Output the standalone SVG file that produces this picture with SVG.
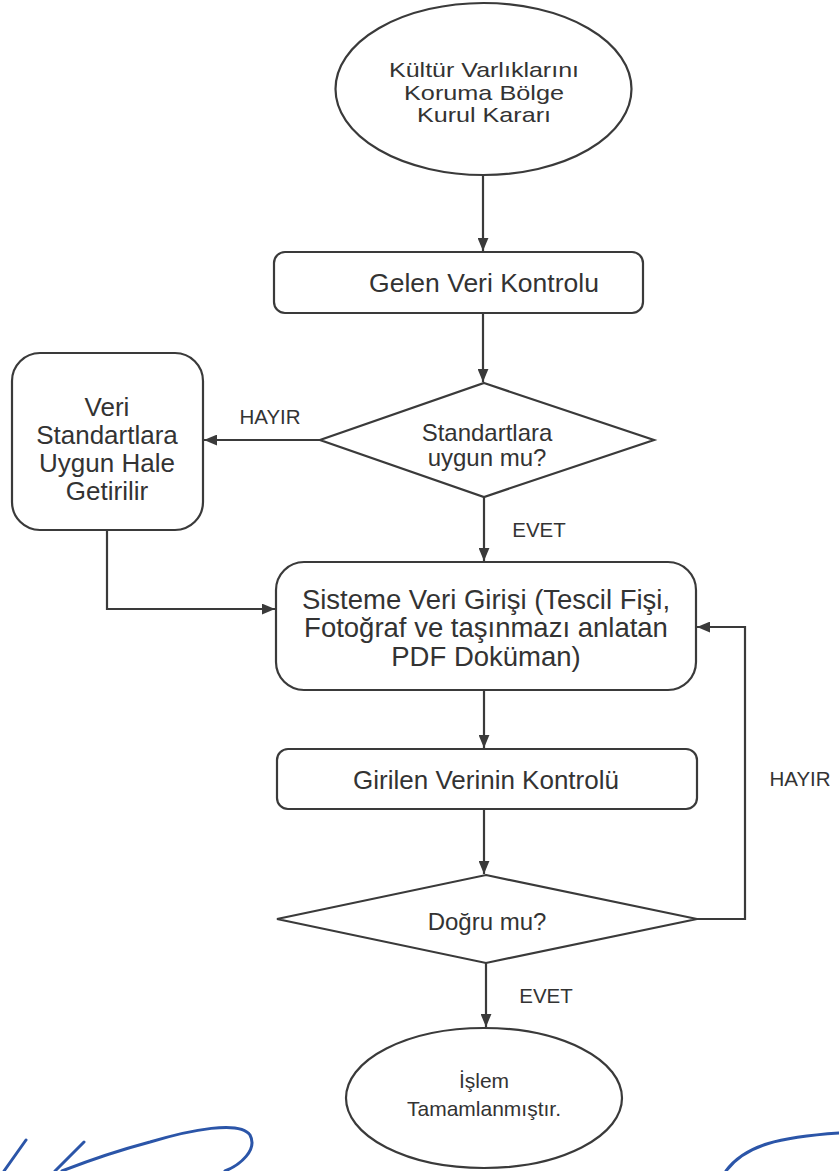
<svg xmlns="http://www.w3.org/2000/svg" width="839" height="1171" viewBox="0 0 839 1171">
<defs>
<marker id="ah" viewBox="0 0 12 10" refX="12" refY="5" markerWidth="13" markerHeight="11" markerUnits="userSpaceOnUse" orient="auto">
<path d="M0,0 L12,5 L0,10 z" fill="#3a3a3a"/>
</marker>
</defs>
<style>
.shape{fill:#fff;stroke:#3a3a3a;stroke-width:2.2}
.t{font-family:"Liberation Sans",Arial,sans-serif;fill:#333;text-anchor:middle}
.lbl{font-family:"Liberation Sans",Arial,sans-serif;fill:#333;text-anchor:middle;font-size:20.5px}
.conn{fill:none;stroke:#3a3a3a;stroke-width:2.2;marker-end:url(#ah)}
.sig{fill:none;stroke:#2b55a8;stroke-width:3;stroke-linecap:round}
</style>
<rect width="839" height="1171" fill="#fff"/>

<g id="connectors">
<path class="conn" d="M483,175 L483,251"/>
<path class="conn" d="M483,313 L483,382"/>
<path class="conn" d="M320,440 L204,440"/>
<path class="conn" d="M484,497 L484,561"/>
<path class="conn" d="M107,530 L107,609 L275,609"/>
<path class="conn" d="M484,690 L484,748"/>
<path class="conn" d="M484,809 L484,874"/>
<path class="conn" d="M697,919 L745,919 L745,627 L697,627"/>
<path class="conn" d="M486,963 L486,1027"/>
<text class="lbl" x="270" y="424">HAYIR</text>
<text class="lbl" x="539" y="537">EVET</text>
<text class="lbl" x="800" y="786">HAYIR</text>
<text class="lbl" x="546" y="1003">EVET</text>
</g>

<g id="start">
<ellipse class="shape" cx="483.5" cy="89" rx="148" ry="86"/>
<text class="t" font-size="21" x="484" y="77" textLength="190" lengthAdjust="spacingAndGlyphs">Kültür Varlıklarını</text>
<text class="t" font-size="21" x="484" y="99.5" textLength="160" lengthAdjust="spacingAndGlyphs">Koruma Bölge</text>
<text class="t" font-size="21" x="484" y="122" textLength="134" lengthAdjust="spacingAndGlyphs">Kurul Kararı</text>
</g>

<g id="gelen">
<rect class="shape" x="274" y="252" width="369" height="61" rx="11"/>
<text class="t" font-size="26.5" x="484" y="292">Gelen Veri Kontrolu</text>
</g>

<g id="standart">
<polygon class="shape" points="484,383 654,440 484,497 320,440"/>
<text class="t" font-size="24" x="487" y="441">Standartlara</text>
<text class="t" font-size="24" x="487" y="466">uygun mu?</text>
</g>

<g id="uygunhale">
<rect class="shape" x="12" y="353" width="191" height="177" rx="28"/>
<text class="t" font-size="26" x="107" y="416">Veri</text>
<text class="t" font-size="26" x="107" y="444">Standartlara</text>
<text class="t" font-size="26" x="107" y="472">Uygun Hale</text>
<text class="t" font-size="26" x="107" y="500">Getirilir</text>
</g>

<g id="sisteme">
<rect class="shape" x="276" y="562" width="420" height="128" rx="28"/>
<text class="t" font-size="27.5" x="486" y="609">Sisteme Veri Girişi (Tescil Fişi,</text>
<text class="t" font-size="27.5" x="486" y="637">Fotoğraf ve taşınmazı anlatan</text>
<text class="t" font-size="27.5" x="486" y="666">PDF Doküman)</text>
</g>

<g id="girilen">
<rect class="shape" x="277" y="749" width="420" height="60" rx="11"/>
<text class="t" font-size="26" x="486" y="789">Girilen Verinin Kontrolü</text>
</g>

<g id="dogru">
<polygon class="shape" points="486,875 697,919 486,963 277,919"/>
<text class="t" font-size="24" x="487" y="930">Doğru mu?</text>
</g>

<g id="end">
<ellipse class="shape" cx="484" cy="1098" rx="138" ry="70"/>
<text class="t" font-size="21" x="484" y="1088">İşlem</text>
<text class="t" font-size="21" x="484" y="1116">Tamamlanmıştır.</text>
</g>

<g id="signatures">
<path class="sig" d="M4,1171 L26,1140"/>
<path class="sig" d="M55,1171 L84,1142 M62,1171 C90,1160 120,1150 150,1142 C190,1130 240,1120 250,1135 C258,1150 240,1165 225,1171"/>
<path class="sig" d="M726,1171 C745,1145 780,1137 839,1133"/>
</g>
</svg>
